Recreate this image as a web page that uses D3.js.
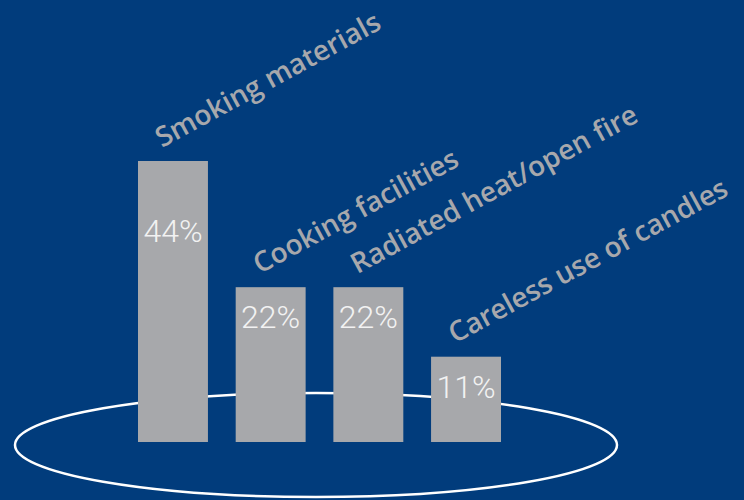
<!DOCTYPE html>
<html lang="en">
  <head>
    <meta charset="UTF-8" />
    <title>Causes of fire</title>
    <style>
      body {
        margin: 0;
        background-color: #013c7c;
      }
      #chart {
        display: block;
      }
      .cat-label {
        font-family: "Open Sans", sans-serif;
        font-weight: 600;
        font-size: 28px;
        fill: #a7a8ac;
      }
      .pct-label {
        font-family: Roboto, sans-serif;
        font-weight: 300;
        font-size: 32px;
        fill: #f2f2f2;
      }
    </style>
    <script src="https://d3js.org/d3.v7.min.js"></script>
  </head>
  <body>
    <svg id="chart"></svg>
    <script>
      const categories = [
        "Smoking materials",
        "Cooking facilities",
        "Radiated heat/open fire",
        "Careless use of candles",
      ];
      const shares = [44, 22, 22, 11];

      const width = 744;
      const height = 500;
      const baseline = 442;

      const svg = d3.select("#chart").attr("width", width).attr("height", height);

      svg.append("rect")
        .attr("width", width)
        .attr("height", height)
        .attr("fill", "#013c7c");

      // the "plate" the bars stand on
      svg.append("ellipse")
        .attr("cx", 316)
        .attr("cy", 445)
        .attr("rx", 301)
        .attr("ry", 52)
        .attr("fill", "none")
        .attr("stroke", "#ffffff")
        .attr("stroke-width", 2.5);

      const x = d3.scaleBand()
        .domain(categories)
        .range([138, 501])
        .paddingInner(0.284)
        .paddingOuter(0);

      // original artwork is not strictly linear, a slight power curve fits it
      const h = d3.scalePow().exponent(0.86).domain([0, 44]).range([0, 281]);

      const data = categories.map((c, i) => ({ cat: c, value: shares[i] }));

      const g = svg.append("g");

      g.selectAll("rect.bar")
        .data(data)
        .join("rect")
        .attr("class", "bar")
        .attr("x", (d) => x(d.cat))
        .attr("y", (d) => baseline - h(d.value))
        .attr("width", x.bandwidth())
        .attr("height", (d) => h(d.value))
        .attr("fill", "#a7a8ab");

      g.selectAll("text.pct-label")
        .data(data)
        .join("text")
        .attr("class", "pct-label")
        .attr("x", (d) => x(d.cat) + x.bandwidth() / 2)
        .attr("y", (d) => {
          const top = baseline - h(d.value);
          return h(d.value) > 200 ? top + 81 : top + 41;
        })
        .attr("text-anchor", "middle")
        .text((d) => d.value + "%");

      g.selectAll("text.cat-label")
        .data(data)
        .join("text")
        .attr("class", "cat-label")
        .attr("transform", (d) => {
          const lx = x(d.cat) + 24;
          const ly = baseline - h(d.value) - 13;
          return `translate(${lx},${ly}) rotate(-28.5)`;
        })
        .text((d) => d.cat);
    </script>
  </body>
</html>
